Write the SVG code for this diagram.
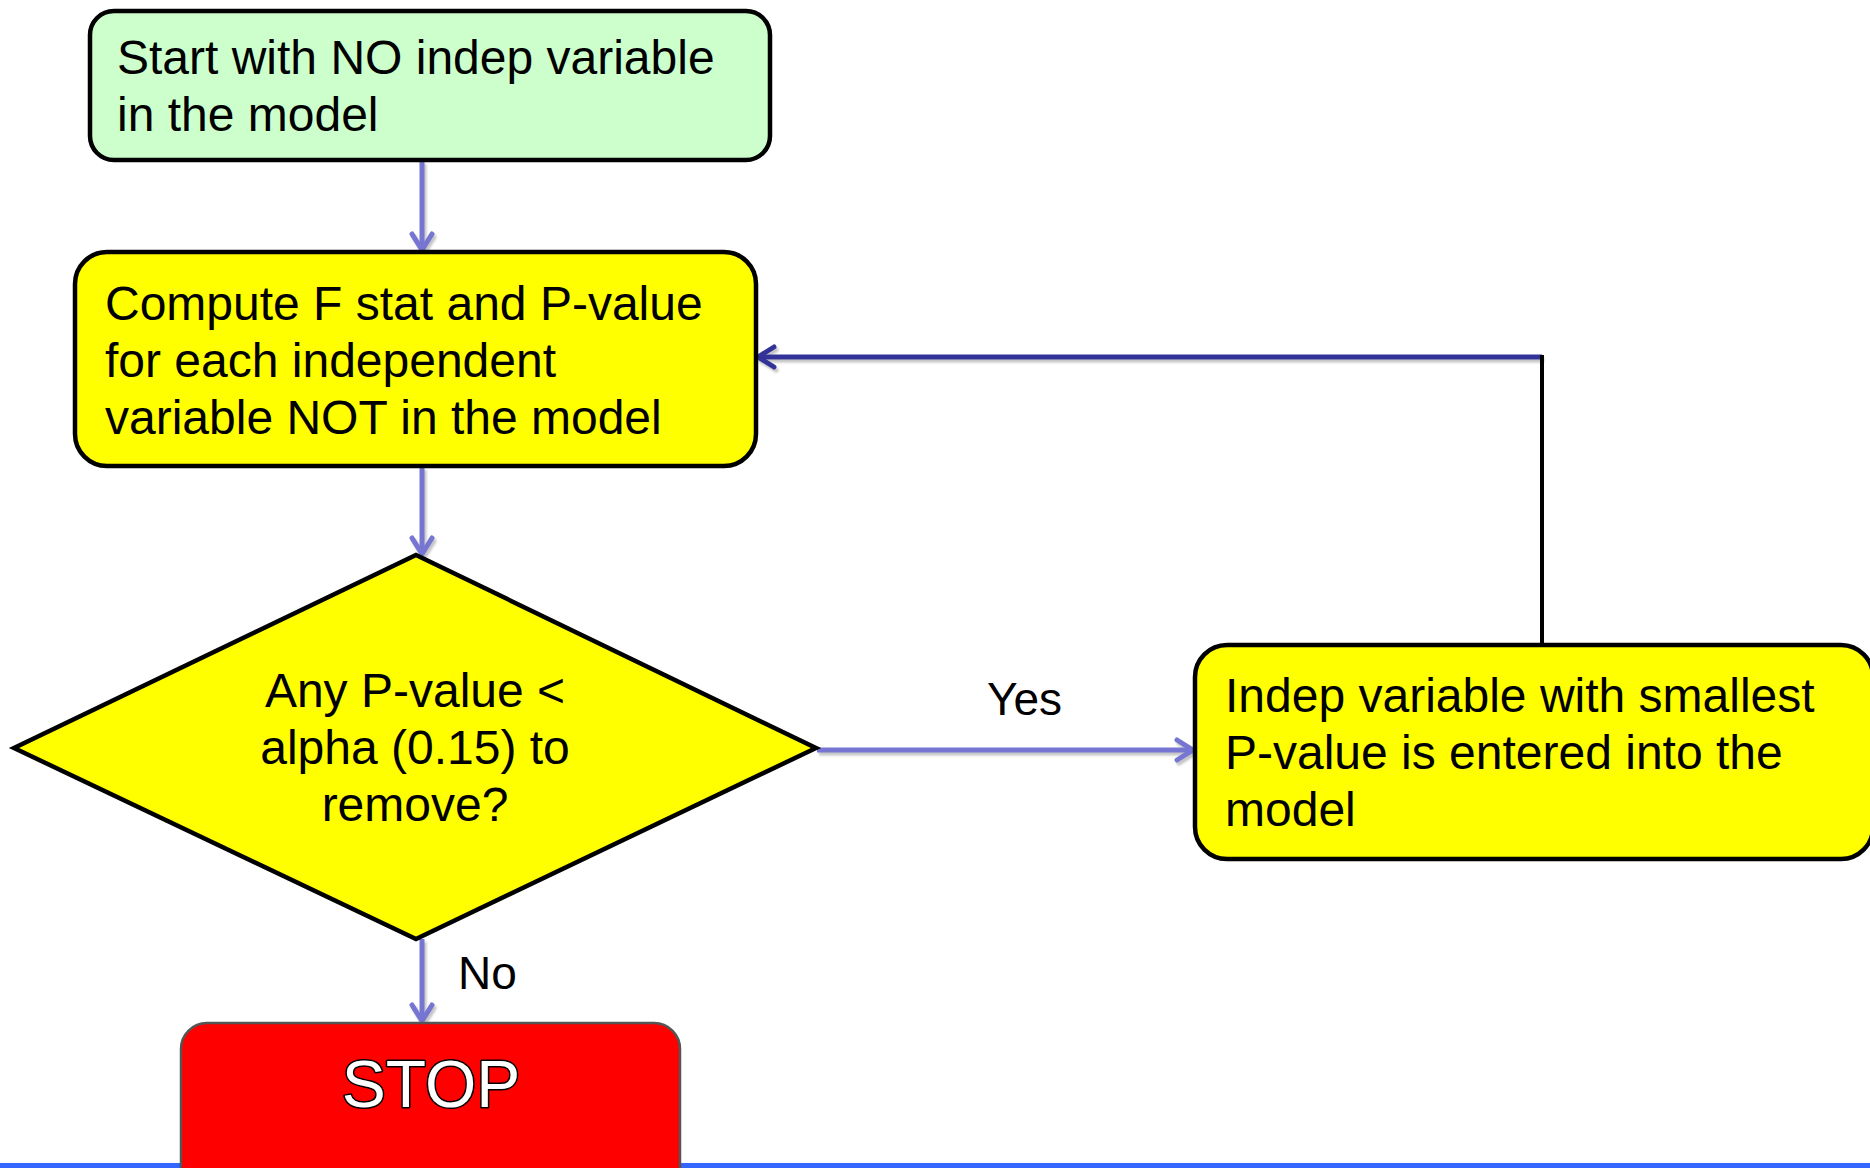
<svg xmlns="http://www.w3.org/2000/svg" width="1870" height="1168" viewBox="0 0 1870 1168">
<style>
.box{stroke:#000;stroke-width:4.5}
.t{font-family:"Liberation Sans",Arial,sans-serif;font-size:48px;fill:#000}
.lbl{font-family:"Liberation Sans",Arial,sans-serif;font-size:46px;fill:#000}
.c{fill:none;stroke:#7676D2;stroke-width:5}
.cd{fill:none;stroke:#333399;stroke-width:5}
</style>
<defs>
<marker id="ah" markerUnits="userSpaceOnUse" markerWidth="26" markerHeight="26" refX="20" refY="13" orient="auto">
<path d="M4,3 L20,13 L4,23" fill="none" stroke="#7676D2" stroke-width="5" stroke-linecap="round" stroke-linejoin="round"/>
</marker>
<marker id="ahd" markerUnits="userSpaceOnUse" markerWidth="26" markerHeight="26" refX="20" refY="13" orient="auto">
<path d="M4,3 L20,13 L4,23" fill="none" stroke="#333399" stroke-width="5" stroke-linecap="round" stroke-linejoin="round"/>
</marker>
<filter id="sh" x="-10%" y="-10%" width="120%" height="120%">
<feDropShadow dx="2" dy="3" stdDeviation="1" flood-color="#888" flood-opacity="0.5"/>
</filter>
</defs>
<rect width="1870" height="1168" fill="#fff"/>
<rect x="0" y="1163" width="1870" height="5" fill="#3366FF"/>

<g id="connectors">
<g filter="url(#sh)">
<line class="c" x1="422" y1="161" x2="422" y2="250" marker-end="url(#ah)"/>
<line class="c" x1="422" y1="467" x2="422" y2="554" marker-end="url(#ah)"/>
<line class="c" x1="817" y1="750" x2="1193" y2="750" marker-end="url(#ah)"/>
<line class="c" x1="422" y1="939" x2="422" y2="1021" marker-end="url(#ah)"/>
<line class="cd" x1="1542" y1="357" x2="758" y2="357" marker-end="url(#ahd)"/>
</g>
<line x1="1542" y1="355" x2="1542" y2="645" stroke="#000" stroke-width="4"/>
</g>

<g id="n-start">
<rect class="box" x="90" y="11" width="680" height="149" rx="24" fill="#CCFFCC"/>
<text class="t" x="117" y="74">Start with NO indep variable</text>
<text class="t" x="117" y="131">in the model</text>
</g>

<g id="n-compute">
<rect class="box" x="75" y="252" width="681" height="214" rx="32" fill="#FFFF00"/>
<text class="t" x="105" y="320">Compute F stat and P-value</text>
<text class="t" x="105" y="377">for each independent</text>
<text class="t" x="105" y="434">variable NOT in the model</text>
</g>

<g id="n-decision">
<polygon class="box" points="416,555 816,748 416,939 14,748" fill="#FFFF00" stroke-linejoin="miter"/>
<text class="t" x="415" y="707" text-anchor="middle">Any P-value &lt;</text>
<text class="t" x="415" y="764" text-anchor="middle">alpha (0.15) to</text>
<text class="t" x="415" y="821" text-anchor="middle">remove?</text>
</g>

<g id="n-enter">
<rect class="box" x="1195" y="645" width="678" height="214" rx="32" fill="#FFFF00"/>
<text class="t" x="1225" y="712">Indep variable with smallest</text>
<text class="t" x="1225" y="769">P-value is entered into the</text>
<text class="t" x="1225" y="826">model</text>
</g>

<g id="n-stop">
<rect x="181" y="1023" width="499" height="170" rx="26" fill="#FF0000" stroke="#555" stroke-width="2.5"/>
<text x="431" y="1107" text-anchor="middle" font-family="'Liberation Sans',Arial,sans-serif" font-size="66" fill="#fff" stroke="#000" stroke-width="3" paint-order="stroke" stroke-linejoin="round">STOP</text>
</g>

<g id="labels">
<text class="lbl" x="987" y="715">Yes</text>
<text class="lbl" x="458" y="989">No</text>
</g>
</svg>
